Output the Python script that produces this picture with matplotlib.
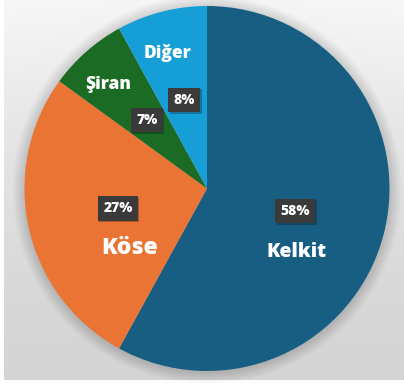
import numpy as np
import matplotlib
matplotlib.use("Agg")
import matplotlib.pyplot as plt
from matplotlib.patches import Circle
from matplotlib import transforms

# Share of each district
districts = ["Kelkit", "Köse", "Şiran", "Diğer"]
shares = [58, 27, 7, 8]
pct_labels = ["58%", "27%", "7%", "8%"]

colors = ["#175E82", "#EA7434", "#1C6B24", "#169ED7"]

W, H = 404, 385
fig = plt.figure(figsize=(W / 100, H / 100), dpi=100)
fig.patch.set_facecolor("white")

# Soft gray backdrop, lighter towards the top
bg = fig.add_axes([4 / W, 5 / H, 1 - 4 / W, 1 - 5 / H])
yy = np.linspace(0, 1, 200)[:, None]
xx = np.linspace(0, 1, 200)[None, :]
shade = 0.835 + 0.125 * yy ** 1.6 + 0.02 * np.abs(xx - 0.5) * yy
bg.imshow(np.dstack([shade, shade, shade]), origin="lower", aspect="auto",
          extent=[0, 1, 0, 1])
bg.set_axis_off()

ax = fig.add_axes([0, 0, 1, 1])
ax.set_xlim(0, W)
ax.set_ylim(0, H)
ax.set_aspect("equal")
ax.set_axis_off()
ax.patch.set_alpha(0)

cx, cy, R = 207.0, H - 188.5, 182.5

# Faint halo under the pie
for k in range(12, 0, -1):
    ax.add_patch(Circle((cx, cy - 1), R + k, color="black", alpha=0.012, lw=0))

wedges, _, autotexts = ax.pie(
    shares, colors=colors, startangle=90, counterclock=False,
    center=(cx, cy), radius=R, autopct=lambda p: "", pctdistance=0.5,
    wedgeprops=dict(linewidth=0), frame=True)
ax.set_xlim(0, W)
ax.set_ylim(0, H)
ax.set_axis_off()

font = ["Open Sans", "DejaVu Sans"]
shadow_tr = transforms.offset_copy(ax.transData, fig=fig, x=1.5, y=-1.5,
                                   units="dots")
box_style = "square,pad=0.38"
for t, lab in zip(autotexts, pct_labels):
    x, y = t.get_position()
    ax.text(x, y, lab, transform=shadow_tr, ha="center", va="center",
            fontsize=10, fontweight="heavy", family=font, color="none",
            bbox=dict(boxstyle=box_style, fc="black", ec="none", alpha=0.25))
    ax.text(x, y, lab, ha="center", va="center", fontsize=10,
            fontweight="heavy", family=font, color="white",
            bbox=dict(boxstyle=box_style, fc="#3A3A3A", ec="none"))

# Category name placement (angle in degrees, distance in radii, font size)
name_layout = [(-35.0, 0.602, 14), (-142.3, 0.533, 16.5),
               (133.5, 0.789, 12.5), (106.4, 0.774, 12.5)]
for name, (ang, dist, fs) in zip(districts, name_layout):
    a = np.deg2rad(ang)
    ax.text(cx + dist * R * np.cos(a), cy + dist * R * np.sin(a), name,
            ha="center", va="center", fontsize=fs, fontweight="heavy",
            family=font, color="white")

fig.savefig("out.png", dpi=100)
